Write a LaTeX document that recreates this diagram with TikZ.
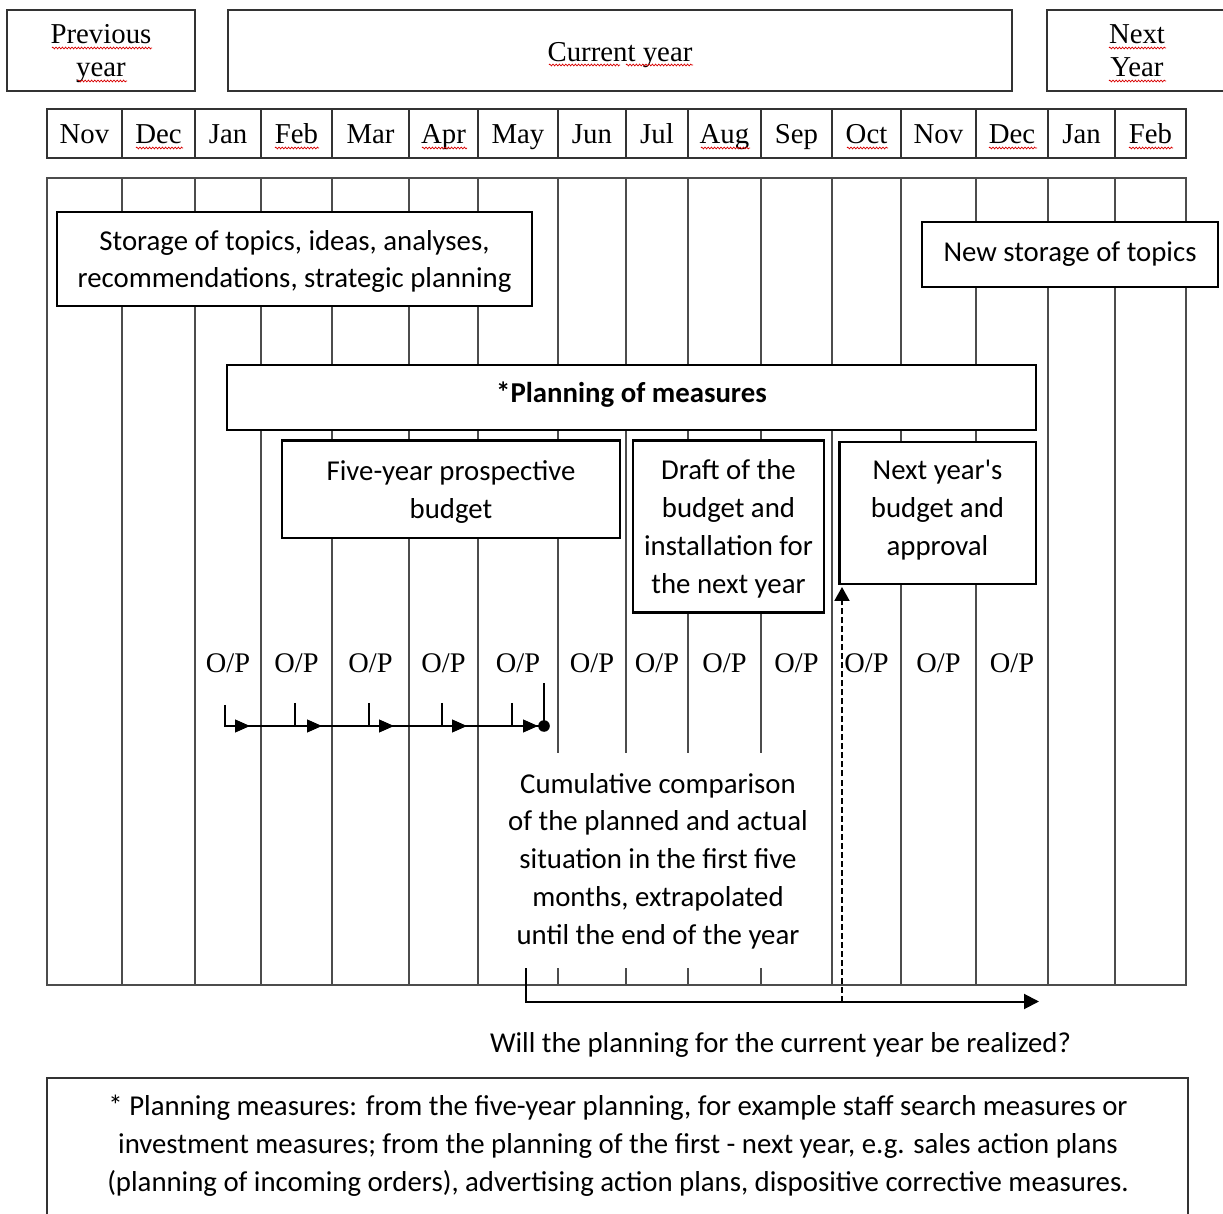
\documentclass[tikz,border=0pt]{standalone}
\usepackage{fontspec}
\setmainfont{Liberation Serif}
\newfontfamily\calib{Carlito}
\usetikzlibrary{arrows.meta,decorations.pathmorphing}
\begin{document}
\begin{tikzpicture}[x=0.5pt,y=-0.5pt,
  hdr/.style={draw=black!80, line width=0.7pt, inner sep=0pt, align=center,
    font=\fontsize{14.4}{16.5}\selectfont},
  month/.style={hdr, minimum height=24.5pt, text height=10.5pt, text depth=0pt},
  grid/.style={draw=black!70, line width=0.55pt},
  box/.style={draw=black, line width=1.2pt, fill=white, inner sep=0pt, align=center,
    font=\calib\fontsize{14.4}{18.9}\selectfont},
  cal/.style={inner sep=0pt, align=center, font=\calib\fontsize{14.4}{18.9}\selectfont},
  op/.style={inner sep=0pt, font=\fontsize{14.2}{16}\selectfont},
  chain/.style={line width=0.55pt},
  tip/.style={-{Triangle[length=7.5pt,width=6.5pt]}, line width=0.55pt},
  bigarrow/.style={line width=1pt, -{Triangle[length=7.5pt,width=7.5pt]}},
  dasharrow/.style={line width=1pt, dash pattern=on 3pt off 1.5pt,
    -{Triangle[length=7pt,width=7.5pt]}},
  squig/.style={draw=red!85!black, line width=0.35pt,
    decorate, decoration={zigzag, segment length=1.6pt, amplitude=0.45pt}}
]
\useasboundingbox (0,0) rectangle (1223,1214);
\fill[white] (0,0) rectangle (1223,1214);

% ---- header boxes ----
\node[hdr, minimum width=94pt, minimum height=40.5pt, text depth=0pt] (prev) at (101,50.5) {Previous\\year};
\node[hdr, minimum width=392pt, minimum height=40.5pt, text height=11.5pt, text depth=0pt] (cur) at (620,50.5) {Current year};
\node[hdr, minimum width=90pt, minimum height=40.5pt, text depth=0pt] (next) at (1137,50.5) {Next\\Year};

% ---- month row ----
\foreach \a/\b/\t [count=\i] in {47/122/Nov,122/195/Dec,195/261/Jan,261/332/Feb,
  332/409/Mar,409/478/Apr,478/558/May,558/626/Jun,626/688/Jul,688/761/Aug,
  761/832/Sep,832/901/Oct,901/976/Nov,976/1048/Dec,1048/1115/Jan,1115/1186/Feb}
  \node[month, minimum width={(\b-\a)*0.5pt}] (m\i) at ({(\a+\b)/2},133.5) {\t};

% ---- spell-check squiggles ----
\foreach \a/\b/\y in {52/152/48,78/127/81,549/620/65,626/693/65,1109/1166/48,1109/1166/81,
  136/183/148,275/319/148,422/467/148,701/750/148,847/888/148,989/1037/148,1129/1173/148}
  \draw[squig] (\a,\y) -- (\b,\y);

% ---- main grid ----
\draw[grid] (47,178) rectangle (1186,985);
\foreach \x in {122,195,261,332,409,478,832,901,976,1048,1115}
  \draw[grid] (\x,178) -- (\x,985);
\foreach \x in {558,626,688,761}{
  \draw[grid] (\x,178) -- (\x,753);
  \draw[grid] (\x,968) -- (\x,985);
}

% ---- boxes ----
\node[box, minimum width=237.5pt, minimum height=47pt, text depth=0pt] (store) at (294.5,259)
  {Storage of topics, ideas, analyses,\\recommendations, strategic planning};
\node[box, minimum width=148pt, minimum height=32.5pt] (newstore) at (1070,254.5)
  {New storage of topics};
\node[box, minimum width=404.5pt, minimum height=32.5pt, text depth=5.4pt,
  font=\calib\bfseries\fontsize{14.4}{18.9}\selectfont]
  (plan) at (631.5,397.5) {*Planning of measures};
\node[box, minimum width=169pt, minimum height=48.8pt, text depth=0pt] (five) at (451,489.5)
  {Five-year prospective\\budget};
\node[box, minimum width=95.5pt, minimum height=86pt, text depth=0pt] (draft) at (728.5,526.7)
  {Draft of the\\budget and\\installation for\\the next year};
\node[box, minimum width=98.2pt, minimum height=71pt, text depth=5pt] (nyb) at (937.5,512.8)
  {Next year's\\budget and\\approval};

% ---- O/P labels ----
\foreach \x [count=\i] in {228,296.5,370.5,443.5,518,592,657,724.5,796.5,866.5,938.5,1012}
  \node[op] (op\i) at (\x,663) {O/P};

% ---- monthly chain ----
\coordinate (c0) at (225,705);
\coordinate (cend) at (544,726);
\draw[chain] (c0) |- (cend);
\foreach \t in {295,369,442,512}
  \draw[chain] (\t,703) -- (\t,726);
\foreach \t in {250,322,394,467,538}
  \draw[tip] (\t-12,726) -- (\t,726);
\coordinate (ctop) at (544,683);
\draw[line width=1pt] (cend) -- (ctop);
\fill (cend) circle[radius=2.9pt];

% ---- comparison text ----
\node[cal] (cmp) at (658,861)
  {Cumulative comparison\\of the planned and actual\\situation in the first five\\months, extrapolated\\until the end of the year};

% ---- bottom arrow & dashed arrow ----
\coordinate (b0) at (526,968);
\coordinate (b1) at (1039,1001.5);
\draw[bigarrow] (b0) |- (b1);
\coordinate (d0) at (842,1001.5);
\coordinate (d1) at (842,587);
\draw[dasharrow] (d0) -- (d1);

\node[cal] (q) at (780.5,1045) {Will the planning for the current year be realized?};

% ---- footnote ----
\draw[draw=black!80, line width=0.7pt] (47,1078) rectangle (1188,1226);
\node[cal] (foot) at (618,1146)
  {* Planning measures: from the five-year planning, for example staff search measures or\\
   investment measures; from the planning of the first - next year, e.g. sales action plans\\
   (planning of incoming orders), advertising action plans, dispositive corrective measures.};
\end{tikzpicture}
\end{document}
